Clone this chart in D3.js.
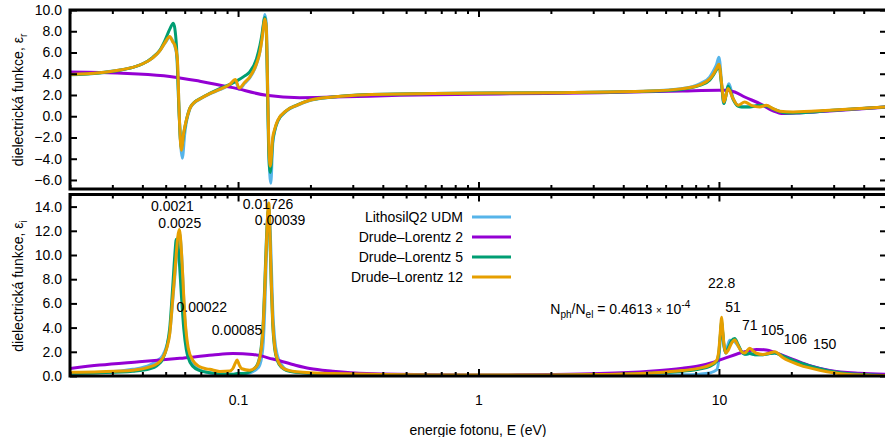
<!DOCTYPE html>
<html>
<head>
<meta charset="utf-8">
<script src="https://cdn.jsdelivr.net/npm/d3@7"></script>
<style>
  body { margin: 0; background: #fff; }
  text { font-family: "Liberation Sans", Arial, Helvetica, sans-serif; fill: #000; }
</style>
</head>
<body>
<svg id="chart" width="885" height="437"></svg>
<script>
// ---- series names and colours ----
const seriesNames = ["LithosilQ2 UDM", "Drude\u2013Lorentz 2", "Drude\u2013Lorentz 5", "Drude\u2013Lorentz 12"];
const seriesColors = ["#56B4E9", "#9400D3", "#009E73", "#E69F00"];

// ---- axis ticks ----
const energyTicks = [0.1, 1, 10];
const energyTickLabels = ["0.1", "1", "10"];
const realTicks = [-6, -4, -2, 0, 2, 4, 6, 8, 10];
const imagTicks = [0, 2, 4, 6, 8, 10, 12, 14];

// ---- real part eps_r: [photon energy (eV), value] ----
const udmReal = [[0.02,3.92],[0.0266,4.1],[0.0322,4.35],[0.03648,4.6],[0.04016,4.94],[0.04418,5.5],[0.04724,6.15],[0.04956,6.85],[0.052,7.4],[0.0535,7.1],[0.05456,6.6],[0.05588,5.3],[0.05696,0.0],[0.05862,-3.95],[0.06004,-1.6],[0.06091,-0.6],[0.06297,0.65],[0.06607,1.3],[0.0693,1.6],[0.07624,2.1],[0.08391,2.5],[0.09237,2.95],[0.09736,3.3],[0.1012,2.55],[0.1066,3.1],[0.1118,3.6],[0.1193,4.9],[0.1231,6.0],[0.1255,7.2],[0.1273,8.4],[0.1291,9.57],[0.131,8.8],[0.1329,2.5],[0.1342,-3.0],[0.1368,-6.3],[0.1394,-2.6],[0.1421,-1.4],[0.1462,-0.5],[0.1594,0.5],[0.1754,1.0],[0.1987,1.48],[0.2476,1.8],[0.3428,2.03],[0.645,2.13],[1.977,2.22],[5.151,2.38],[7.066,2.62],[8.313,3.05],[9.149,3.69],[9.506,4.3],[9.782,4.9],[10.0,5.56],[10.27,3.0],[10.46,1.19],[11.01,3.06],[11.45,1.7],[12.01,1.0],[12.44,0.9],[13.43,0.9],[14.78,1.03],[15.76,0.97],[17.33,0.56],[19.08,0.35],[21.68,0.35],[28.89,0.53],[50,0.87]];
const dl2Real = [[0.02,4.16],[0.0266,4.12],[0.03648,4.0],[0.052,3.75],[0.0693,3.3],[0.09506,2.69],[0.131,1.97],[0.1805,1.75],[0.2476,1.8],[0.4702,1.97],[1.225,2.1],[3.192,2.2],[7.066,2.38],[10.0,2.44],[10.67,2.44],[11.63,2.28],[12.8,1.81],[14.78,1.19],[16.79,0.5],[18.47,0.25],[21.68,0.31],[28.89,0.5],[50,0.87]];
const dl5Real = [[0.02,3.9],[0.0266,4.08],[0.0322,4.33],[0.03648,4.6],[0.04016,4.94],[0.04418,5.55],[0.04724,6.2],[0.04956,7.1],[0.052,8.2],[0.05378,8.75],[0.05542,6.7],[0.05668,1.0],[0.05806,-3.0],[0.05946,-1.6],[0.06091,-0.4],[0.06297,0.75],[0.06607,1.35],[0.0693,1.65],[0.07624,2.15],[0.08391,2.6],[0.09237,3.0],[0.09924,3.35],[0.1066,3.8],[0.1118,4.16],[0.1193,5.4],[0.1231,6.6],[0.1255,7.6],[0.1273,8.6],[0.1291,9.3],[0.131,8.0],[0.1329,1.0],[0.1342,-3.5],[0.1361,-5.3],[0.1394,-2.3],[0.1421,-1.3],[0.1462,-0.45],[0.1594,0.55],[0.1754,1.05],[0.1987,1.52],[0.2476,1.82],[0.3428,2.04],[0.645,2.14],[1.977,2.22],[5.151,2.35],[7.066,2.55],[8.313,2.9],[9.149,3.4],[9.506,3.9],[9.782,4.4],[10.0,4.75],[10.27,2.8],[10.5,1.19],[10.91,2.85],[11.45,1.6],[12.01,0.95],[12.44,0.87],[13.43,0.87],[14.78,1.03],[15.76,0.95],[17.33,0.56],[19.08,0.31],[21.68,0.33],[28.89,0.53],[50,0.87]];
const dl12Real = [[0.02,3.94],[0.0266,4.1],[0.0322,4.35],[0.03648,4.6],[0.04016,4.94],[0.04418,5.5],[0.04724,6.15],[0.04956,6.9],[0.052,7.5],[0.0535,7.0],[0.05456,6.7],[0.05588,5.5],[0.05696,0.0],[0.05806,-3.2],[0.05946,-1.5],[0.06091,-0.38],[0.06297,0.72],[0.06607,1.34],[0.0693,1.62],[0.07624,2.13],[0.08391,2.53],[0.09237,3.0],[0.09736,3.45],[0.1012,2.65],[0.1066,3.2],[0.1118,3.69],[0.1193,4.94],[0.1231,6.0],[0.1255,7.13],[0.1273,8.2],[0.1291,9.16],[0.131,8.4],[0.1329,2.0],[0.1342,-2.5],[0.1361,-4.7],[0.1394,-2.0],[0.1421,-1.2],[0.1462,-0.4],[0.1594,0.56],[0.1754,1.03],[0.1987,1.5],[0.2476,1.81],[0.3428,2.03],[0.645,2.13],[1.977,2.22],[5.151,2.37],[7.066,2.6],[8.313,2.95],[9.149,3.5],[9.506,4.0],[9.782,4.5],[10.0,4.9],[10.27,3.0],[10.5,1.34],[10.91,2.6],[11.45,1.66],[12.01,1.03],[12.8,1.34],[13.64,1.03],[14.78,0.87],[15.76,1.03],[16.79,0.72],[17.89,0.47],[20.33,0.41],[28.89,0.56],[50,0.87]];

// ---- imaginary part eps_i: [photon energy (eV), value] ----
const udmImag = [[0.02,0.2],[0.0266,0.28],[0.03648,0.55],[0.04293,0.9],[0.04591,1.25],[0.04862,1.7],[0.05052,2.5],[0.052,3.6],[0.05353,6.3],[0.05456,8.2],[0.05535,9.8],[0.05615,11.2],[0.05696,11.8],[0.05806,10.5],[0.05862,9.0],[0.05946,6.3],[0.06004,4.8],[0.06091,3.2],[0.06208,2.0],[0.0648,1.0],[0.0693,0.5],[0.07624,0.25],[0.08391,0.15],[0.09506,0.12],[0.1036,0.15],[0.1118,0.25],[0.1173,0.45],[0.1207,0.65],[0.1231,0.9],[0.1255,1.6],[0.1273,2.8],[0.1291,5.5],[0.131,9.5],[0.1329,13.0],[0.1342,14.0],[0.1361,12.0],[0.1374,9.5],[0.1394,5.5],[0.1421,3.0],[0.1462,1.6],[0.1519,0.9],[0.1594,0.5],[0.1754,0.3],[0.2476,0.12],[0.645,0.04],[1.977,0.03],[3.192,0.04],[5.151,0.06],[7.066,0.1],[8.313,0.15],[9.149,0.25],[9.782,0.5],[10.0,1.5],[10.12,3.0],[10.27,4.3],[10.37,3.5],[10.5,2.4],[10.67,2.0],[10.91,2.6],[11.09,2.95],[11.45,2.9],[12.01,2.5],[12.44,2.0],[12.8,1.8],[13.43,1.85],[14.32,1.75],[15.21,1.75],[16.26,1.85],[17.06,1.9],[18.47,1.65],[21.68,1.1],[26.25,0.62],[33.89,0.22],[50,0.05]];
const dl2Imag = [[0.02,0.62],[0.0266,0.9],[0.03875,1.18],[0.05723,1.46],[0.07848,1.73],[0.09506,1.85],[0.1151,1.78],[0.1394,1.4],[0.1688,0.95],[0.1987,0.62],[0.2476,0.4],[0.3428,0.2],[0.645,0.1],[1.225,0.09],[1.977,0.12],[3.192,0.2],[5.151,0.4],[7.066,0.65],[8.313,0.85],[9.506,1.15],[10.67,1.5],[12.8,2.0],[14.32,2.2],[15.76,2.15],[17.06,1.95],[20.33,1.37],[23.86,0.85],[28.89,0.45],[38.49,0.22],[50,0.15]];
const dl5Imag = [[0.02,0.22],[0.0266,0.27],[0.03648,0.4],[0.04293,0.6],[0.04591,0.85],[0.04862,1.4],[0.05052,2.4],[0.052,4.0],[0.05353,7.5],[0.05456,10.0],[0.05535,11.3],[0.05615,11.0],[0.05696,9.5],[0.05806,6.8],[0.05946,3.9],[0.06091,2.2],[0.06208,1.5],[0.0648,0.8],[0.0693,0.45],[0.07624,0.28],[0.08391,0.18],[0.09506,0.15],[0.09905,0.2],[0.1036,0.2],[0.1118,0.35],[0.1173,0.65],[0.1207,1.0],[0.1231,1.6],[0.1255,2.8],[0.1273,4.5],[0.1291,7.5],[0.131,11.0],[0.1329,13.3],[0.1342,13.8],[0.1361,10.5],[0.1374,7.5],[0.1394,4.2],[0.1421,2.2],[0.1462,1.2],[0.1519,0.7],[0.1594,0.45],[0.1754,0.3],[0.2476,0.15],[0.645,0.06],[1.977,0.07],[3.192,0.1],[5.151,0.22],[7.066,0.4],[8.313,0.58],[9.149,0.8],[9.782,1.2],[10.0,2.0],[10.12,3.2],[10.27,4.5],[10.37,3.6],[10.5,2.5],[10.67,1.9],[10.91,2.3],[11.27,2.9],[11.63,3.1],[12.01,2.6],[12.44,2.0],[12.8,1.8],[13.43,1.85],[14.32,1.75],[15.21,1.75],[16.26,1.85],[17.06,1.9],[18.47,1.65],[21.68,1.1],[26.25,0.6],[33.89,0.2],[50,0.04]];
const dl12Imag = [[0.02,0.3],[0.0266,0.35],[0.03648,0.48],[0.04293,0.75],[0.04591,1.0],[0.04862,1.5],[0.05052,2.3],[0.052,3.5],[0.05353,6.5],[0.05456,8.5],[0.05535,10.1],[0.05615,11.5],[0.05696,12.1],[0.05806,10.5],[0.05862,9.0],[0.05946,6.5],[0.06004,5.0],[0.06091,3.5],[0.06208,2.3],[0.0648,1.3],[0.0693,0.76],[0.07337,0.6],[0.07624,0.55],[0.08391,0.38],[0.09237,0.42],[0.09506,0.6],[0.09736,1.05],[0.09905,1.32],[0.1012,0.9],[0.1036,0.6],[0.1118,0.48],[0.1173,0.65],[0.1207,0.95],[0.1231,1.5],[0.1255,2.6],[0.1273,4.2],[0.1291,7.0],[0.131,10.5],[0.1329,13.5],[0.1342,14.3],[0.1361,11.0],[0.1374,8.0],[0.1394,4.5],[0.1421,2.4],[0.1462,1.3],[0.1519,0.75],[0.1594,0.5],[0.1754,0.35],[0.2476,0.2],[0.645,0.08],[1.977,0.08],[3.192,0.12],[5.151,0.25],[7.066,0.45],[8.313,0.65],[9.149,0.9],[9.782,1.3],[10.0,2.2],[10.12,3.5],[10.27,4.85],[10.37,3.8],[10.5,2.6],[10.67,1.9],[10.91,2.1],[11.27,2.7],[11.63,2.98],[12.01,2.5],[12.44,2.0],[12.8,1.9],[13.43,2.29],[13.82,2.1],[14.32,1.88],[15.21,1.78],[16.26,1.9],[17.06,2.0],[18.47,1.5],[21.68,0.9],[26.25,0.48],[33.89,0.15],[50,0.03]];

// ---- oscillator-strength annotations in the eps_i panel ----
const noteTexts = ["0.0021", "0.0025", "0.01726", "0.00039", "0.00022", "0.00085", "22.8", "51", "71", "105", "106", "150"];
const noteAt = [[0.05337,13.6],[0.05723,12.27],[0.1333,13.8],[0.1495,12.44],[0.07065,5.33],[0.099,3.39],[10.26,7.31],[11.45,5.33],[13.43,3.8],[16.68,3.39],[20.78,2.64],[27.51,2.23]];

const realSeries = [udmReal, dl2Real, dl5Real, dl12Real];
const imagSeries = [udmImag, dl2Imag, dl5Imag, dl12Imag];

// ---- layout ----
const svg = d3.select("#chart");
const L = 70, R = 887;
const top1 = 10, bot1 = 189, top2 = 194.5, bot2 = 376;
const FS = 14;

const x = d3.scaleLog().domain([0.02, 50]).range([L, R]);
const yR = d3.scaleLinear().domain([-6.85, 10]).range([bot1, top1]);
const yI = d3.scaleLinear().domain([0, 15]).range([bot2, top2]);

const minorTicks = [];
[0.01, 0.1, 1, 10].forEach(d => {
  for (let m = 2; m <= 9; m++) {
    const v = +(d * m).toPrecision(3);
    if (v >= 0.02 && v <= 50) minorTicks.push(v);
  }
});

const defs = svg.append("defs");
function clip(id, y0, y1) {
  defs.append("clipPath").attr("id", id)
    .append("rect").attr("x", L).attr("y", y0).attr("width", R - L).attr("height", y1 - y0);
}
clip("clipR", top1, bot1);
clip("clipI", top2, bot2);

function styleAxis(g, w) {
  g.select(".domain").remove();
  g.selectAll(".tick line").attr("stroke", "#000").attr("stroke-width", w);
  g.selectAll(".tick text").attr("font-size", FS).attr("fill", "#000")
    .style("font-family", '"Liberation Sans", Arial, sans-serif');
}

function panel(y, yTicks, series, clipId, y0, y1, showX) {
  // curves
  const line = d3.line().x(d => x(d[0])).y(d => y(d[1])).curve(d3.curveMonotoneX);
  const g = svg.append("g").attr("clip-path", `url(#${clipId})`);
  series.forEach((s, i) => {
    g.append("path").datum(s)
      .attr("d", line)
      .attr("fill", "none")
      .attr("stroke", seriesColors[i])
      .attr("stroke-width", 3)
      .attr("stroke-linejoin", "round")
      .attr("stroke-linecap", "round");
  });

  // y axes (inward ticks both sides)
  const yl = svg.append("g").attr("transform", `translate(${L},0)`)
    .call(d3.axisLeft(y).tickValues(yTicks).tickSize(-7).tickPadding(8).tickFormat(d3.format(".1f")));
  styleAxis(yl, 2);
  const yr = svg.append("g").attr("transform", `translate(${R},0)`)
    .call(d3.axisRight(y).tickValues(yTicks).tickSize(-7).tickFormat(""));
  styleAxis(yr, 2);

  // x axes, major and minor, on top and bottom edges
  [[d3.axisTop, y0], [d3.axisBottom, y1]].forEach(([ax, yy]) => {
    const gm = svg.append("g").attr("transform", `translate(0,${yy})`)
      .call(ax(x).tickValues(energyTicks).tickSize(-7)
        .tickPadding(19)
        .tickFormat((d, i) => (showX && ax === d3.axisBottom) ? energyTickLabels[i] : ""));
    styleAxis(gm, 2);
    const gn = svg.append("g").attr("transform", `translate(0,${yy})`)
      .call(ax(x).tickValues(minorTicks).tickSize(-4).tickFormat(""));
    styleAxis(gn, 2);
  });

  // frame
  svg.append("rect").attr("x", L).attr("y", y0).attr("width", R - L).attr("height", y1 - y0)
    .attr("fill", "none").attr("stroke", "#000").attr("stroke-width", 3);
}

panel(yR, realTicks, realSeries, "clipR", top1, bot1, false);
panel(yI, imagTicks, imagSeries, "clipI", top2, bot2, true);

// axis titles
function yTitle(cy, sub) {
  const t = svg.append("text")
    .attr("transform", `translate(23,${cy}) rotate(-90)`)
    .attr("text-anchor", "middle").attr("font-size", FS);
  t.append("tspan").text("dielectrick\u00e1 funkce, \u03b5");
  t.append("tspan").attr("font-size", 10).attr("dy", 4).text(sub);
}
yTitle(100, "r");
yTitle(286, "i");

svg.append("text").attr("x", 478).attr("y", 435).attr("text-anchor", "middle")
  .attr("font-size", FS).text("energie fotonu, E (eV)");

// legend
const legendY = [217, 237, 257, 277];
seriesNames.forEach((n, i) => {
  svg.append("text").attr("x", 463).attr("y", legendY[i] + 5).attr("text-anchor", "end")
    .attr("font-size", FS).text(n);
  svg.append("line").attr("x1", 472).attr("x2", 511).attr("y1", legendY[i]).attr("y2", legendY[i])
    .attr("stroke", seriesColors[i]).attr("stroke-width", 3);
});

// annotations
noteTexts.forEach((t, i) => {
  svg.append("text").attr("x", x(noteAt[i][0])).attr("y", yI(noteAt[i][1]))
    .attr("text-anchor", "middle").attr("font-size", FS).text(t);
});

// photon/electron ratio
const ratio = svg.append("text").attr("x", x(1.99)).attr("y", yI(5.12)).attr("font-size", FS);
ratio.append("tspan").text("N");
ratio.append("tspan").attr("font-size", 10).attr("dy", 4).text("ph");
ratio.append("tspan").attr("dy", -4).text("/N");
ratio.append("tspan").attr("font-size", 10).attr("dy", 4).text("el");
ratio.append("tspan").attr("dy", -4).text(" = 0.4613 ");
ratio.append("tspan").attr("font-size", 10).text("\u00d7");
ratio.append("tspan").text(" 10");
ratio.append("tspan").attr("font-size", 10).attr("dy", -6).text("-4");
</script>
</body>
</html>
